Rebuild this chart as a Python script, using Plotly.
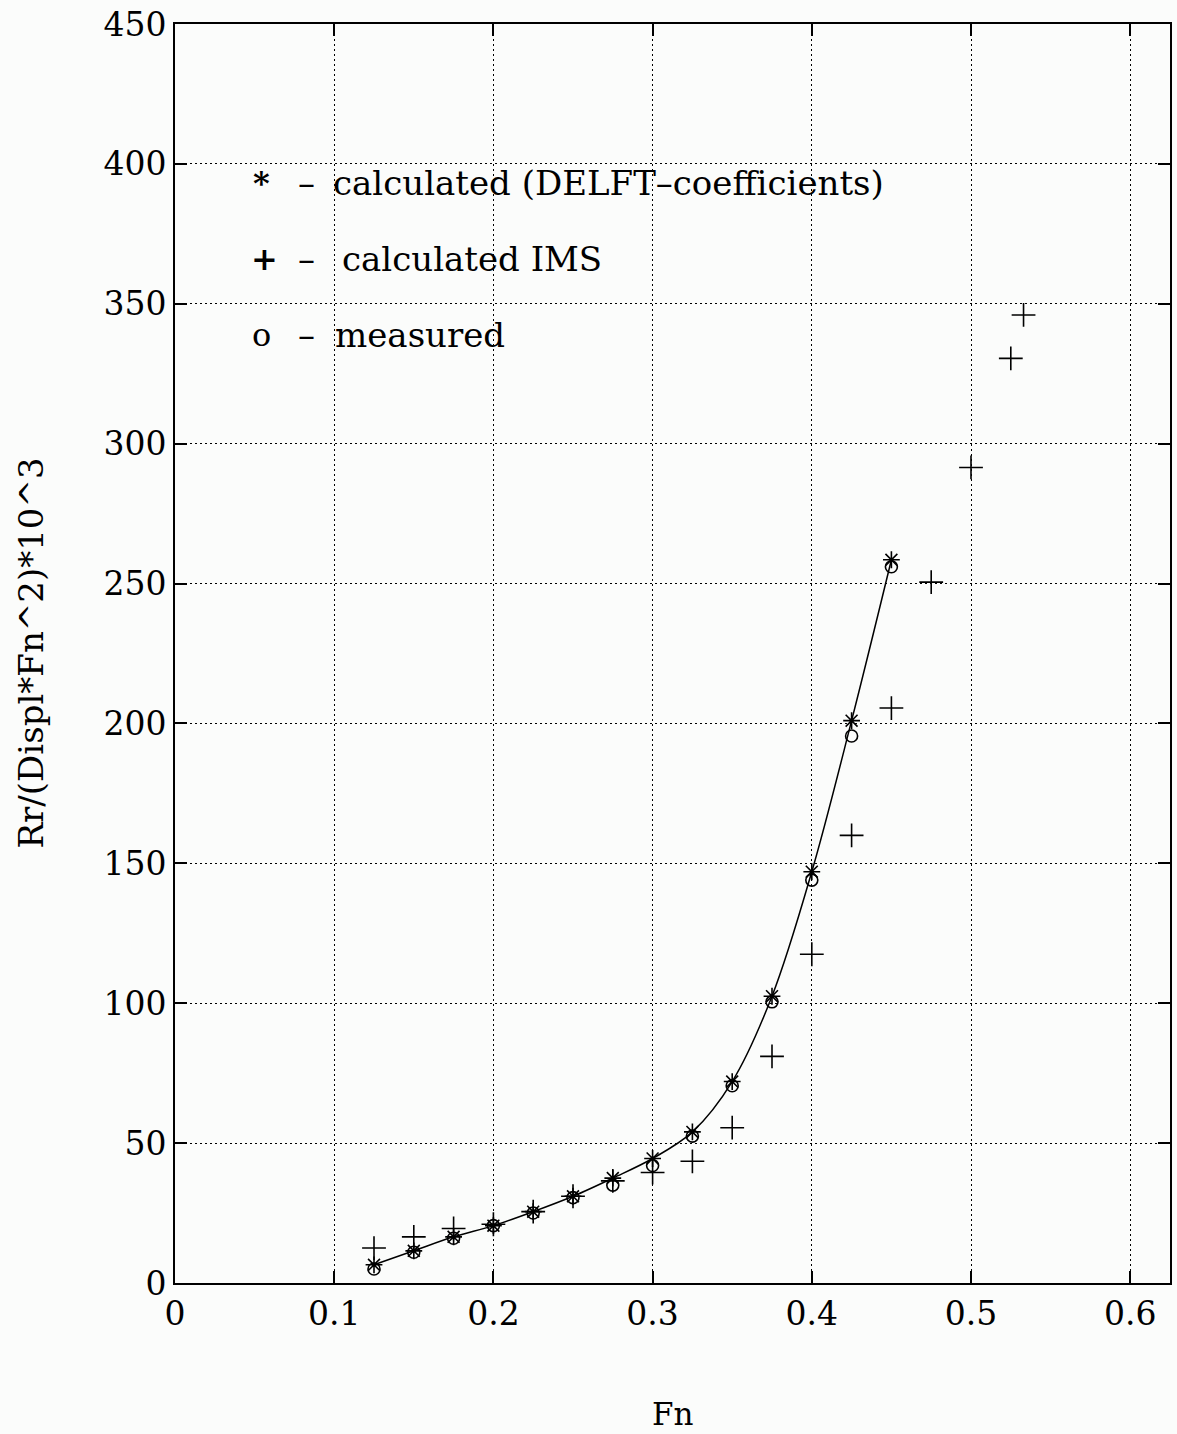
import plotly.graph_objects as go

# Froude numbers / resistance values
fn_delft = [0.125, 0.15, 0.175, 0.2, 0.225, 0.25, 0.275, 0.3, 0.325, 0.35, 0.375, 0.4, 0.425, 0.45]
rr_delft = [6.5, 11.5, 16.5, 20.5, 25.5, 31.0, 37.5, 44.5, 54.0, 72.0, 102.5, 147.0, 201.0, 258.5]

fn_meas = [0.125, 0.15, 0.175, 0.2, 0.225, 0.25, 0.275, 0.3, 0.325, 0.35, 0.375, 0.4, 0.425, 0.45]
rr_meas = [5.0, 11.0, 16.0, 20.5, 25.0, 30.5, 35.0, 42.0, 52.5, 70.5, 100.5, 144.0, 195.5, 256.0]

fn_ims = [0.125, 0.15, 0.175, 0.2, 0.225, 0.25, 0.275, 0.3, 0.325, 0.35, 0.375, 0.4, 0.425, 0.45,
          0.475, 0.5, 0.525, 0.533]
rr_ims = [12.5, 16.5, 19.5, 21.0, 25.5, 31.0, 36.5, 39.5, 43.5, 55.5, 81.0, 117.5, 160.0, 205.5,
          250.5, 291.5, 330.5, 346.0]

x_ticks = [0, 0.1, 0.2, 0.3, 0.4, 0.5, 0.6]
x_ticklabels = ["0", "0.1", "0.2", "0.3", "0.4", "0.5", "0.6"]
y_ticks = [0, 50, 100, 150, 200, 250, 300, 350, 400, 450]

legend_symbols = ["*", "+", "o"]
legend_texts = ["calculated (DELFT\u2013coefficients)", "calculated IMS", "measured"]

FONT = "DejaVu Serif"

fig = go.Figure()
fig.add_trace(go.Scatter(x=fn_delft, y=rr_delft, mode="lines",
                         line=dict(color="black", width=1.5, shape="spline"),
                         showlegend=False, hoverinfo="skip"))
fig.add_trace(go.Scatter(x=fn_meas, y=rr_meas, mode="markers",
                         marker=dict(symbol="circle-open", size=12, color="black",
                                     line=dict(width=1.6, color="black")),
                         showlegend=False))
fig.add_trace(go.Scatter(x=fn_delft, y=rr_delft, mode="markers",
                         marker=dict(symbol="asterisk-open", size=14, color="black",
                                     line=dict(width=1.6, color="black")),
                         showlegend=False))
fig.add_trace(go.Scatter(x=fn_ims, y=rr_ims, mode="markers",
                         marker=dict(symbol="cross-thin-open", size=17, color="black",
                                     line=dict(width=1.6, color="black")),
                         showlegend=False))

# legend written as text inside the plot
leg_y = [393, 366, 339]
sym_x = [0.0545, 0.056, 0.0545]
dash_x = [0.0828, 0.0828, 0.0828]
txt_x = [0.0978, 0.1034, 0.099]
sym_weight = ["bold", "bold", "normal"]
lf = dict(family=FONT, size=34, color="black")
for s, t, yv, sx, dx, tx, w in zip(legend_symbols, legend_texts, leg_y, sym_x, dash_x, txt_x, sym_weight):
    fig.add_annotation(x=sx, y=yv, xref="x", yref="y", text=s, showarrow=False,
                       xanchor="center", yanchor="middle",
                       font=dict(family=FONT, size=32, color="black", weight=w))
    fig.add_annotation(x=dx, y=yv, xref="x", yref="y", text="\u2013", showarrow=False,
                       xanchor="center", yanchor="middle", font=lf)
    fig.add_annotation(x=tx, y=yv, xref="x", yref="y", text=t, showarrow=False,
                       xanchor="left", yanchor="middle", font=lf)

fig.add_annotation(x=0.5, y=0, xref="paper", yref="paper", text="Fn", showarrow=False,
                   xanchor="center", yanchor="middle", yshift=-131,
                   font=dict(family=FONT, size=31, color="black"))
fig.add_annotation(x=0, y=0.5, xref="paper", yref="paper", text="Rr/(Displ*Fn^2)*10^3",
                   showarrow=False, textangle=-90, xanchor="center", yanchor="middle",
                   xshift=-145, font=dict(family=FONT, size=34, color="black"))

axis_common = dict(showline=True, linecolor="black", linewidth=2, mirror="ticks",
                   ticks="inside", ticklen=12, tickwidth=1.5, tickcolor="black",
                   showgrid=True, gridcolor="black", gridwidth=1, griddash="2px,3px",
                   zeroline=False, tickfont=dict(family=FONT, size=33, color="black"))

fig.update_xaxes(range=[0, 0.625], tickvals=x_ticks, ticktext=x_ticklabels, **axis_common)
fig.update_yaxes(range=[0, 450], tickvals=y_ticks, **axis_common)

fig.update_layout(width=1177, height=1434,
                  margin=dict(l=175, r=5, t=22, b=151),
                  paper_bgcolor="#fbfcfb", plot_bgcolor="#fbfcfb",
                  showlegend=False)

fig.write_html("out.html", config={"displayModeBar": False},
               post_script="document.body.style.margin='0';document.body.style.overflow='hidden';")
